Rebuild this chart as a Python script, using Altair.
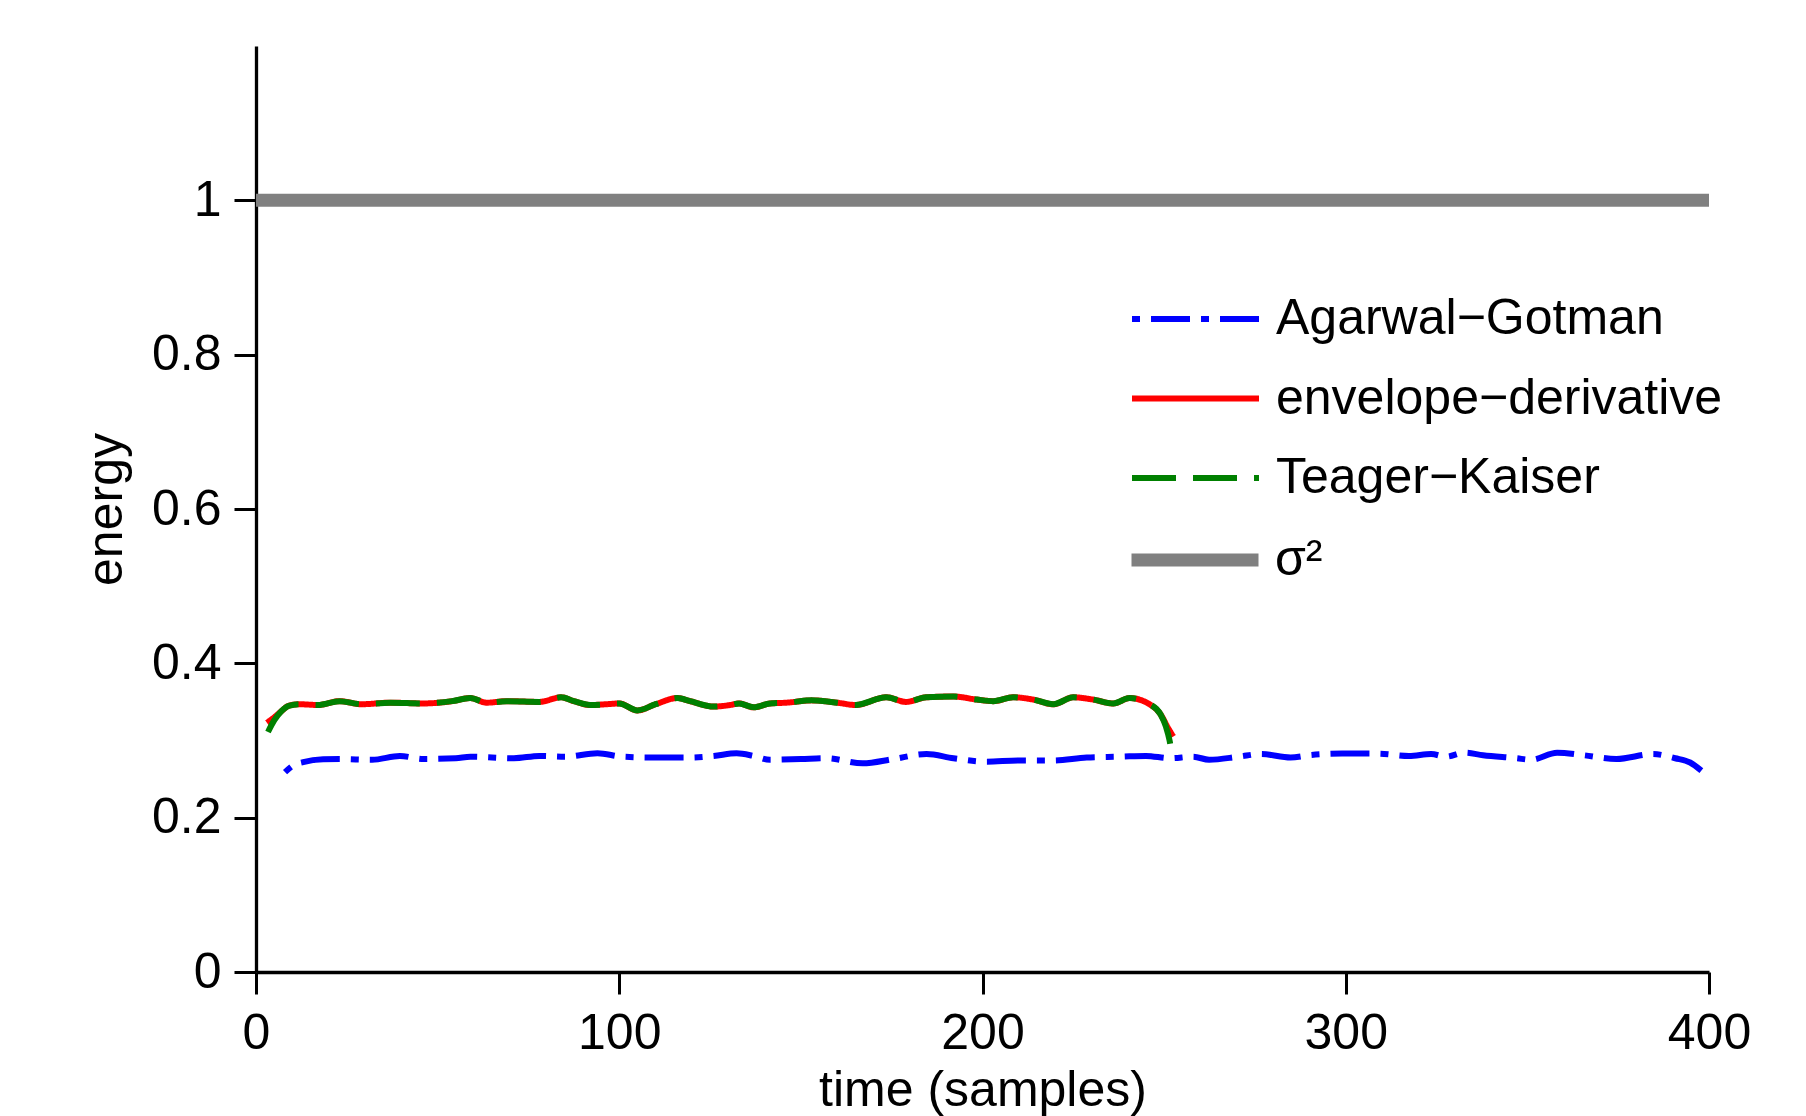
import altair as alt
import pandas as pd

# ---- data ----
ed_x = [3, 5, 7, 9, 12, 17, 23, 29, 37, 46, 54, 59, 63.5, 69, 78, 84, 87.5, 92, 96.5, 100,
        105, 110, 116, 119.5, 126, 130.5, 133, 137, 141.5, 146, 153, 160, 165, 173.5, 179,
        184.5, 192, 198.5, 203, 208.5, 214, 219.5, 225, 230.5, 236, 240.5, 246, 249, 251, 252.5]
ed_y = [0.323, 0.330, 0.338, 0.345, 0.347, 0.346, 0.351, 0.347, 0.349, 0.348, 0.351, 0.355,
        0.349, 0.351, 0.350, 0.356, 0.351, 0.346, 0.347, 0.348, 0.339, 0.347, 0.355, 0.351,
        0.344, 0.346, 0.348, 0.343, 0.348, 0.349, 0.352, 0.349, 0.346, 0.356, 0.350, 0.356,
        0.357, 0.353, 0.351, 0.356, 0.353, 0.347, 0.356, 0.353, 0.348, 0.355, 0.347, 0.334,
        0.317, 0.305]

tk_x = [3.3, 5, 7, 9, 12, 17, 23, 29, 37, 46, 54, 59, 63.5, 69, 78, 84, 87.5, 92, 96.5, 100,
        105, 110, 116, 119.5, 126, 130.5, 133, 137, 141.5, 146, 153, 160, 165, 173.5, 179,
        184.5, 192, 198.5, 203, 208.5, 214, 219.5, 225, 230.5, 236, 240.5, 246, 249, 250.5,
        251.5, 252.2]
tk_y = [0.311, 0.326, 0.338, 0.345, 0.347, 0.346, 0.351, 0.347, 0.349, 0.348, 0.351, 0.355,
        0.349, 0.351, 0.350, 0.356, 0.351, 0.346, 0.347, 0.348, 0.339, 0.347, 0.355, 0.351,
        0.344, 0.346, 0.348, 0.343, 0.348, 0.349, 0.352, 0.349, 0.346, 0.356, 0.350, 0.356,
        0.357, 0.353, 0.351, 0.356, 0.353, 0.347, 0.356, 0.353, 0.348, 0.355, 0.347, 0.334,
        0.318, 0.300, 0.280]

ag_x = [8, 10.3, 13, 18.5, 23, 32, 39.6, 46, 55, 59, 71, 78, 85, 94, 101, 110, 119.5, 126,
        132.3, 137, 141.5, 150, 157, 167, 175.5, 184.6, 192, 201, 210, 219.5, 228.7, 237.8,
        245, 251.6, 258, 262.4, 270.5, 276.7, 284.8, 290, 299, 308.7, 317.4, 323.5, 327.6,
        332.7, 337.8, 347, 351, 358.2, 365.3, 374.5, 384.6, 390.7, 394.8, 397.9]
ag_y = [0.259, 0.268, 0.272, 0.2756, 0.276, 0.275, 0.280, 0.276, 0.277, 0.279, 0.277, 0.280,
        0.279, 0.2834, 0.279, 0.278, 0.278, 0.280, 0.2834, 0.280, 0.275, 0.276, 0.277, 0.2704,
        0.276, 0.2825, 0.277, 0.2726, 0.274, 0.274, 0.278, 0.279, 0.280, 0.277, 0.279, 0.275,
        0.279, 0.2825, 0.278, 0.281, 0.283, 0.283, 0.280, 0.2825, 0.279, 0.2842, 0.281, 0.277,
        0.275, 0.2842, 0.281, 0.276, 0.2825, 0.277, 0.2715, 0.261]

sigma_x = [0, 400]
sigma_y = [1, 1]

series_names = ["Agarwal\u2212Gotman", "envelope\u2212derivative", "Teager\u2212Kaiser"]
series_colors = ["#0000FF", "#FF0000", "#008000"]
series_dashes = [[8, 11, 39, 11], [1, 0], [44, 17]]
sigma_label = "\u03c3\u00b2"
sigma_color = "#808080"

x_ticks = [0, 100, 200, 300, 400]
y_ticks = [0, 0.2, 0.4, 0.6, 0.8, 1]

# ---- tables ----
frames = []
for name, xs, ys in [(series_names[0], ag_x, ag_y),
                     (series_names[1], ed_x, ed_y),
                     (series_names[2], tk_x, tk_y)]:
    frames.append(pd.DataFrame({"t": xs, "e": ys, "series": name}))
lines_df = pd.concat(frames, ignore_index=True)
sigma_df = pd.DataFrame({"t": sigma_x, "e": sigma_y, "s": sigma_label})

FONT = "Liberation Sans"
FS = 50

xscale = alt.Scale(domain=[0, 400], nice=False)
yscale = alt.Scale(domain=[0, 1.2], nice=False)

xenc = alt.X("t:Q", scale=xscale,
             axis=alt.Axis(values=x_ticks, format="d", title="time (samples)",
                           titleY=133, titleBaseline="alphabetic", labelPadding=14,
                           labelFlush=False))
yenc = alt.Y("e:Q", scale=yscale,
             axis=alt.Axis(values=y_ticks, format="~g", title="energy",
                           titleX=-135, titleBaseline="alphabetic", labelPadding=13,
                           labelFlush=False))

legend1 = alt.Legend(orient="none", legendX=873, legendY=238, title=None,
                     symbolType="stroke", symbolSize=16129, symbolStrokeWidth=6,
                     labelFont=FONT, labelFontSize=FS, labelColor="black",
                     labelOffset=14, clipHeight=70, rowPadding=9.5, padding=0,
                     labelLimit=1000)
color_enc = alt.Color("series:N", scale=alt.Scale(domain=series_names, range=series_colors),
                      legend=legend1)
dash_enc = alt.StrokeDash("series:N", scale=alt.Scale(domain=series_names, range=series_dashes),
                          legend=legend1)

def series_layer(name):
    return alt.Chart(lines_df).transform_filter(
        alt.datum.series == name
    ).mark_line(strokeWidth=6, interpolate="monotone", strokeCap="butt").encode(
        x=xenc, y=yenc, color=color_enc, strokeDash=dash_enc
    )

legend2 = alt.Legend(orient="none", legendX=869, legendY=479, title=None,
                     symbolType="stroke", symbolSize=16129, symbolStrokeColor=sigma_color,
                     labelFont=FONT, labelFontSize=FS, labelColor="black",
                     labelOffset=10, clipHeight=70, padding=0, labelLimit=1000)

sigma_layer = alt.Chart(sigma_df).mark_line(color=sigma_color, strokeCap="butt").encode(
    x=xenc, y=yenc,
    strokeWidth=alt.StrokeWidth("s:N", scale=alt.Scale(domain=[sigma_label], range=[13, 13]),
                                legend=legend2)
)

chart = alt.layer(
    sigma_layer,
    series_layer(series_names[0]),
    series_layer(series_names[1]),
    series_layer(series_names[2]),
).properties(
    width=1453, height=926,
    autosize=alt.AutoSizeParams(type="none"),
    padding={"left": 256, "top": 46, "right": 97, "bottom": 144},
    background="white",
).configure_view(stroke=None).configure_axis(
    grid=False,
    domainColor="black", domainWidth=3.3,
    tickColor="black", tickWidth=3, tickSize=22,
    labelFont=FONT, labelFontSize=FS, labelColor="black",
    titleFont=FONT, titleFontSize=FS, titleFontWeight="normal", titleColor="black",
)

chart.save("out.html", embed_options={"renderer": "svg", "actions": False})
